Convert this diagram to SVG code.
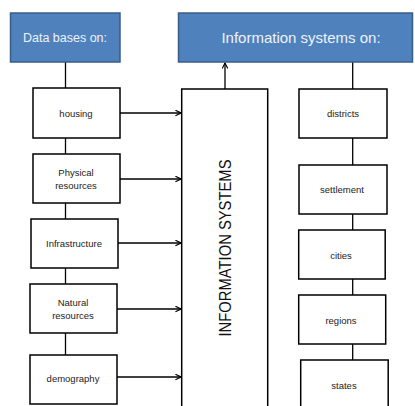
<svg xmlns="http://www.w3.org/2000/svg" width="415" height="406" viewBox="0 0 415 406">
<style>
.hdr{fill:#4f81bd;stroke:#385d8a;stroke-width:1.5}
.hdrt{fill:#eef2f9;font-family:"Liberation Sans",Arial,sans-serif;text-anchor:middle;dominant-baseline:central}
.box{fill:#fff;stroke:#000;stroke-width:1.5}
.lbl{fill:#222;font-family:"Liberation Sans",Arial,sans-serif;font-size:9.5px;text-anchor:middle;dominant-baseline:central}
.ln{stroke:#000;stroke-width:1.3;fill:none}
.ar{stroke:#000;stroke-width:1.3;fill:none;marker-end:url(#ah)}
</style>
<defs>
<marker id="ah" viewBox="0 0 10 10" refX="9" refY="5" markerWidth="7" markerHeight="7" markerUnits="userSpaceOnUse" orient="auto">
<path d="M1,1 L9,5 L1,9" fill="none" stroke="#000" stroke-width="1.6"/>
</marker>
</defs>
<g id="connectors">
<line class="ln" x1="65.5" y1="62" x2="65.5" y2="88"/>
<line class="ln" x1="65.5" y1="138" x2="65.5" y2="154"/>
<line class="ln" x1="65.5" y1="203" x2="65.5" y2="219"/>
<line class="ln" x1="65.5" y1="268" x2="65.5" y2="284"/>
<line class="ln" x1="65.5" y1="333" x2="65.5" y2="355"/>
<line class="ar" x1="120" y1="113" x2="181" y2="113"/>
<line class="ar" x1="120" y1="179" x2="181" y2="179"/>
<line class="ar" x1="118" y1="243" x2="181" y2="243"/>
<line class="ar" x1="117" y1="309" x2="181" y2="309"/>
<line class="ar" x1="117" y1="377" x2="181" y2="377"/>
<line class="ar" x1="225" y1="89" x2="225" y2="63"/>
<line class="ln" x1="352.7" y1="62" x2="352.7" y2="89"/>
<line class="ln" x1="352.7" y1="138" x2="352.7" y2="165"/>
<line class="ln" x1="352.7" y1="214" x2="352.7" y2="230"/>
<line class="ln" x1="352.7" y1="279" x2="352.7" y2="295"/>
<line class="ln" x1="352.7" y1="344" x2="352.7" y2="360"/>
</g>
<g id="databases">
<rect class="hdr" x="10.5" y="13" width="109.5" height="49"/>
<text class="hdrt" x="65" y="37.5" font-size="12.5">Data bases on:</text>
</g>
<g id="infosystems-on">
<rect class="hdr" x="178.5" y="13" width="234" height="49"/>
<text class="hdrt" x="301" y="37.5" font-size="15">Information systems on:</text>
</g>
<g id="housing">
<rect class="box" x="33" y="88" width="87" height="50"/>
<text class="lbl" x="76" y="113">housing</text>
</g>
<g id="physical">
<rect class="box" x="33" y="154" width="87" height="49"/>
<text class="lbl" x="76" y="172">Physical</text>
<text class="lbl" x="76" y="185">resources</text>
</g>
<g id="infrastructure">
<rect class="box" x="31" y="219" width="87" height="49"/>
<text class="lbl" x="74" y="243.5">Infrastructure</text>
</g>
<g id="natural">
<rect class="box" x="30" y="284" width="87" height="49"/>
<text class="lbl" x="73" y="302">Natural</text>
<text class="lbl" x="73" y="315">resources</text>
</g>
<g id="demography">
<rect class="box" x="30" y="355" width="87" height="49"/>
<text class="lbl" x="73" y="378">demography</text>
</g>
<g id="information-systems">
<path class="box" d="M181.7,407 L181.7,89 L267.7,89 L267.7,407"/>
<text transform="translate(225,248) rotate(-90)" font-family="'Liberation Sans',Arial,sans-serif" font-size="16" fill="#111" text-anchor="middle" dominant-baseline="central" textLength="177" lengthAdjust="spacingAndGlyphs">INFORMATION SYSTEMS</text>
</g>
<g id="districts">
<rect class="box" x="299" y="89" width="88" height="49"/>
<text class="lbl" x="343" y="113">districts</text>
</g>
<g id="settlement">
<rect class="box" x="299" y="165" width="88" height="49"/>
<text class="lbl" x="342" y="189">settlement</text>
</g>
<g id="cities">
<rect class="box" x="298.7" y="230" width="86.5" height="49"/>
<text class="lbl" x="341" y="255">cities</text>
</g>
<g id="regions">
<rect class="box" x="298.7" y="295" width="87" height="49"/>
<text class="lbl" x="341" y="320">regions</text>
</g>
<g id="states">
<rect class="box" x="300.7" y="360" width="87.5" height="49"/>
<text class="lbl" x="344" y="385">states</text>
</g>
</svg>
